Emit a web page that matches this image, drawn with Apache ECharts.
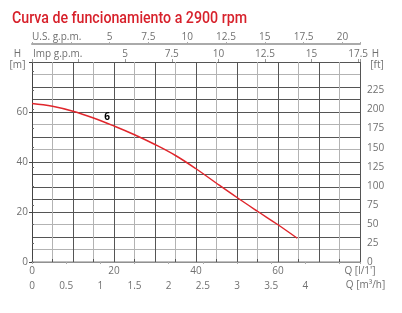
<!DOCTYPE html>
<html><head><meta charset="utf-8">
<script src="https://cdn.jsdelivr.net/npm/echarts@6/dist/echarts.min.js"></script>
<style>html,body{margin:0;padding:0;background:#fff}#c{width:402px;height:313px}</style>
</head><body><div id="c"></div>
<script>
const titleText = 'Curva de funcionamiento a 2900 rpm';
const flowLpm = [0, 5, 10, 15, 20, 25, 30, 35, 40, 45, 50, 55, 60, 64.7];
const headM = [63.4, 62.3, 60.3, 57.6, 54.4, 50.9, 47.0, 42.6, 37.3, 31.5, 25.8, 20.3, 14.9, 9.5];
const curveName = '6';
const qMaxLpm = 80;
const hMaxM = 80;
const lpmTicks = [0, 20, 40, 60];
const m3hTicks = [0, 0.5, 1, 1.5, 2, 2.5, 3, 3.5, 4];
const usTicks = [5, 7.5, 10, 12.5, 15, 17.5, 20];
const impTicks = [5, 7.5, 10, 12.5, 15, 17.5];
const mTicks = [0, 20, 40, 60];
const ftTicks = [0, 25, 50, 75, 100, 125, 150, 175, 200, 225];
const L_PER_USGAL = 3.785411784, L_PER_IMPGAL = 4.54609, M_PER_FT = 0.3048, LPM_PER_M3H = 1000 / 60;

const FONT = 'Open Sans';
const LBL = '#707070';
const DARK = '#555';
const LIGHT = '#b3b3b3';
const has = (arr, v) => arr.some(t => Math.abs(t - v) < 1e-6);
const fmt = arr => v => has(arr, v) ? String(v) : '';

const vColors = []; for (let i = 0; i <= 16; i++) vColors.push(i % 2 ? LIGHT : DARK);
const lightH = [5, 15, 45, 55, 75];
const hColors = []; for (let i = 0; i <= 16; i++) hColors.push(lightH.includes(i * 5) ? LIGHT : DARK);

const lbl = (m, extra) => Object.assign({ fontFamily: FONT, fontSize: 10, color: LBL, margin: m }, extra || {});

// condensed title: scale horizontally to the reference width
const TITLE_FONT = '500 16px Roboto';
const ctx = document.createElement('canvas').getContext('2d');
ctx.font = TITLE_FONT;
const titleScale = 235 / ctx.measureText(titleText).width;

const chart = echarts.init(document.getElementById('c'), null, { renderer: 'canvas' });
chart.setOption({
  animation: false,
  backgroundColor: '#fff',
  grid: { left: 32, right: 42, top: 62, bottom: 51, containLabel: false, outerBoundsMode: 'none' },
  xAxis: [
    { type: 'value', position: 'bottom', min: 0, max: qMaxLpm, interval: 20,
      axisLine: { show: true, lineStyle: { color: '#444', width: 1 } },
      axisTick: { show: false }, splitLine: { show: false },
      axisLabel: lbl(4, { formatter: v => v === qMaxLpm ? "Q [l/1']" : fmt(lpmTicks)(v) }) },
    { type: 'value', position: 'top', offset: 0, min: 0, max: qMaxLpm, interval: 5,
      axisLine: { show: false }, axisLabel: { show: false },
      axisTick: { show: true, length: 3, lineStyle: { color: DARK } },
      splitLine: { show: true, lineStyle: { color: vColors, width: 1 } } },
    { type: 'value', position: 'bottom', offset: 16, min: 0, max: qMaxLpm / LPM_PER_M3H, interval: 0.5,
      axisLine: { show: true, lineStyle: { color: '#aaa', width: 1.5 } },
      axisTick: { show: true, length: 2, lineStyle: { color: '#aaa' } }, splitLine: { show: false },
      axisLabel: lbl(3, { formatter: fmt(m3hTicks) }) },
    { type: 'value', position: 'top', offset: 18, min: 0, max: qMaxLpm / L_PER_USGAL, interval: 2.5,
      axisLine: { show: true, lineStyle: { color: '#aaa', width: 2 } },
      axisTick: { show: true, length: 2, lineStyle: { color: '#aaa' } }, splitLine: { show: false },
      axisLabel: lbl(2, { formatter: fmt(usTicks) }) },
    { type: 'value', position: 'top', offset: 0, min: 0, max: qMaxLpm / L_PER_IMPGAL, interval: 2.5,
      axisLine: { show: false },
      axisTick: { show: true, length: 3, lineStyle: { color: '#999' } }, splitLine: { show: false },
      axisLabel: lbl(3, { formatter: fmt(impTicks) }) }
  ],
  yAxis: [
    { type: 'value', position: 'left', min: 0, max: hMaxM, interval: 20,
      axisLine: { show: true, lineStyle: { color: '#444', width: 1 } },
      axisTick: { show: true, length: 3, lineStyle: { color: '#444' } }, splitLine: { show: false },
      axisLabel: lbl(4, { formatter: fmt(mTicks) }) },
    { type: 'value', position: 'left', min: 0, max: hMaxM, interval: 5,
      axisLine: { show: false }, axisTick: { show: false }, axisLabel: { show: false },
      splitLine: { show: true, lineStyle: { color: hColors, width: 1 } } },
    { type: 'value', position: 'right', min: 0, max: hMaxM / M_PER_FT, interval: 25,
      axisLine: { show: true, lineStyle: { color: '#444', width: 1 } },
      axisTick: { show: true, length: 2, lineStyle: { color: '#666' } }, splitLine: { show: false },
      axisLabel: lbl(7, { formatter: fmt(ftTicks) }) }
  ],
  graphic: [
    { type: 'text', x: 12, y: 19, scaleX: titleScale, style: { text: titleText, fill: '#d7212b', font: TITLE_FONT, align: 'left', verticalAlign: 'middle' } },
    { type: 'text', x: 17.5, y: 54, style: { text: 'H', fill: LBL, font: '10px ' + FONT, align: 'center', verticalAlign: 'middle' } },
    { type: 'text', x: 17.5, y: 65, style: { text: '[m]', fill: LBL, font: '10px ' + FONT, align: 'center', verticalAlign: 'middle' } },
    { type: 'text', x: 375.5, y: 54, style: { text: 'H', fill: LBL, font: '10px ' + FONT, align: 'center', verticalAlign: 'middle' } },
    { type: 'text', x: 377, y: 65, style: { text: '[ft]', fill: LBL, font: '10px ' + FONT, align: 'center', verticalAlign: 'middle' } },
    { type: 'text', x: 32, y: 37, style: { text: 'U.S. g.p.m.', fill: LBL, font: '10px ' + FONT, align: 'left', verticalAlign: 'middle' } },
    { type: 'text', x: 33, y: 54, style: { text: 'Imp g.p.m.', fill: LBL, font: '10px ' + FONT, align: 'left', verticalAlign: 'middle' } },
    { type: 'text', x: 365.5, y: 285, style: { text: 'Q [m³/h]', fill: LBL, font: '10px ' + FONT, align: 'center', verticalAlign: 'middle' } }
  ],
  series: [{
    type: 'line', name: curveName, xAxisIndex: 0, yAxisIndex: 0,
    data: flowLpm.map((q, i) => [q, headM[i]]),
    smooth: 0.4, showSymbol: false,
    lineStyle: { color: '#e0262c', width: 1.5 },
    markPoint: {
      symbol: 'circle', symbolSize: 0, silent: true,
      data: [{ coord: [flowLpm[4], headM[4]],
        label: { show: true, formatter: curveName, offset: [-7, -8.5], color: '#000',
          fontWeight: 'bold', fontSize: 10, fontFamily: FONT } }]
    }
  }]
});
</script></body></html>
